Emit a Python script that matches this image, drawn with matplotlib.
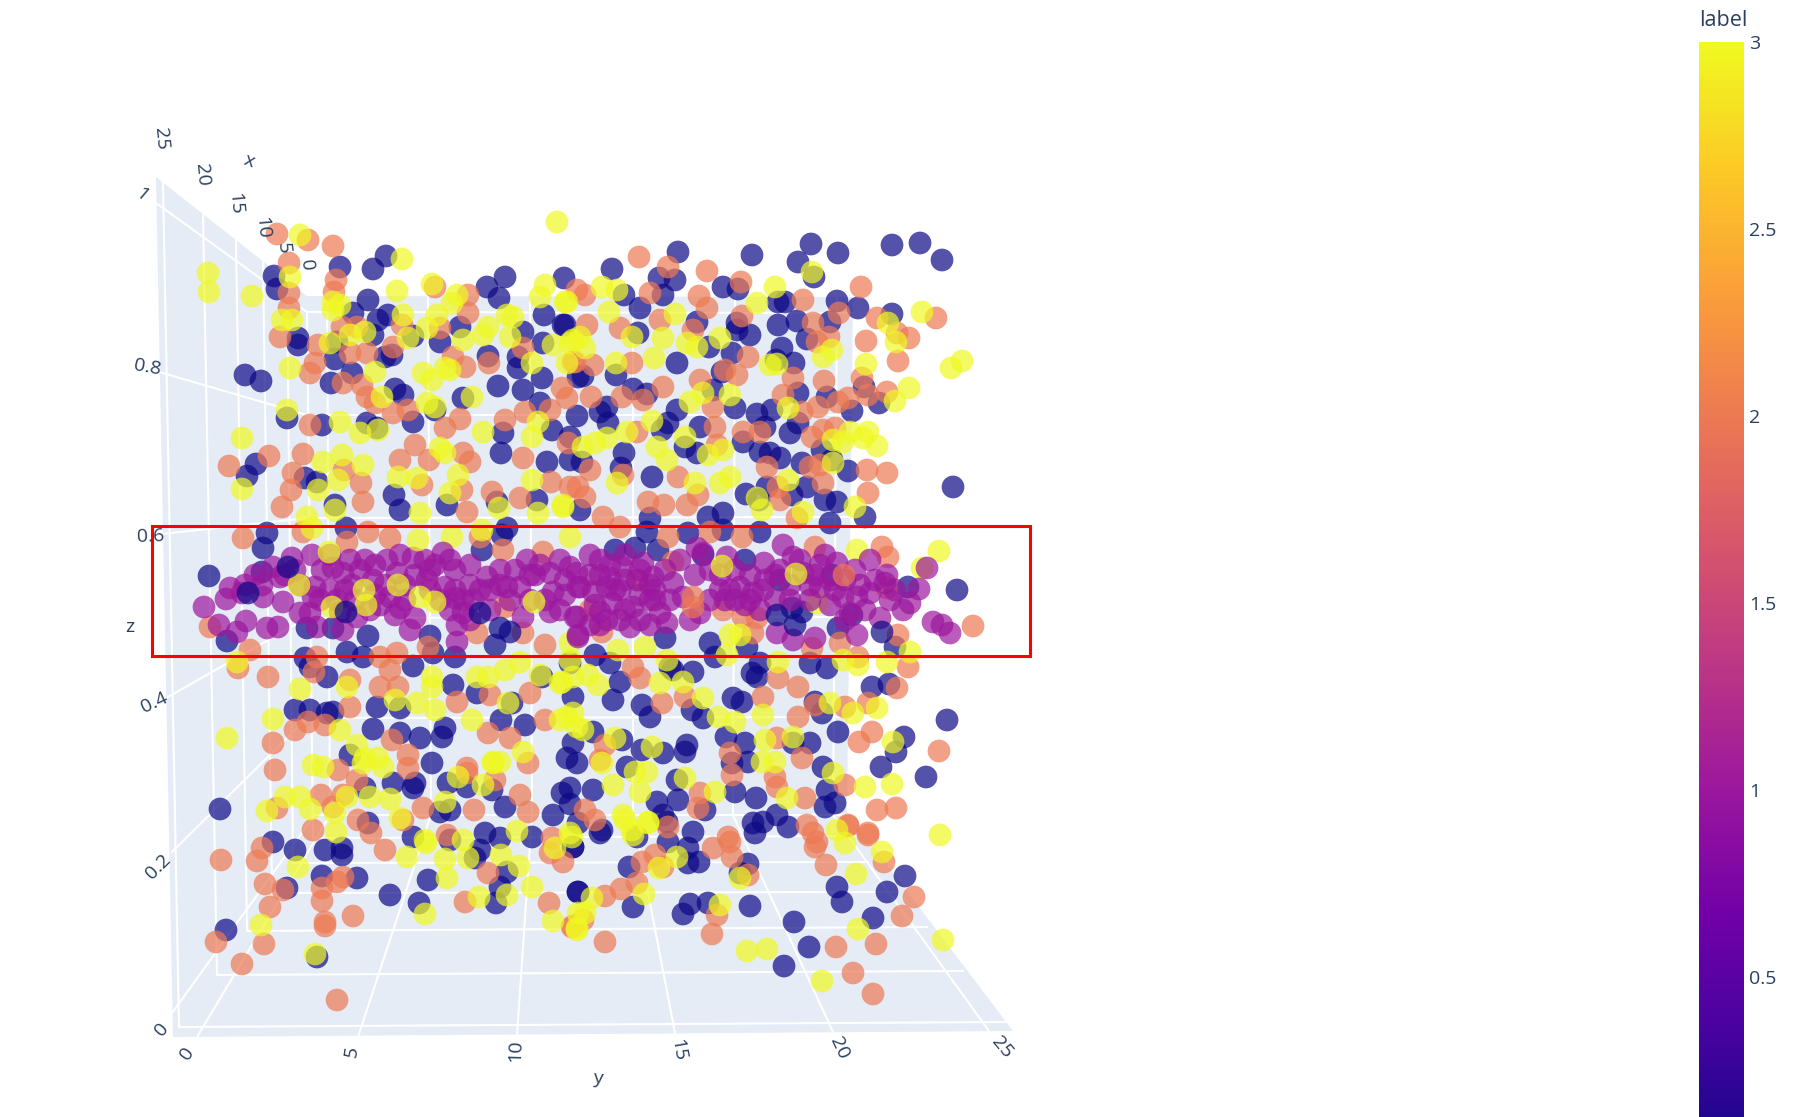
#!/usr/bin/env python3
"""
3D scatter view (x, y, z coloured by label) with a red box around the z = 0.5 band.
Point positions are read off the picture, so they are kept as projected
screen positions per label.
"""

import matplotlib.pyplot as plt
import numpy as np
from matplotlib.colors import LinearSegmentedColormap
from matplotlib.patches import Polygon, Rectangle

plt.rcParams["font.family"] = ["Open Sans", "DejaVu Sans"]

WIDTH, HEIGHT = 1804, 1117
TEXT_COLOR = "#2a3f5f"
PANE_COLOR = "#E5ECF6"
PLASMA = ["#0d0887", "#46039f", "#7201a8", "#9c179e", "#bd3786",
          "#d8576b", "#ed7953", "#fb9f3a", "#fdca26", "#f0f921"]

COLORBAR_TICKS = [0.5, 1, 1.5, 2, 2.5, 3]
COLORBAR_LABELS = ["0.5", "1", "1.5", "2", "2.5", "3"]

# label 0
blue = [(386,256),(373,269),(340,267),(274,276),(277,289),(368,300),(505,277),(487,287),(499,298),(564,278),
(544,315),(563,325),(523,332),(543,343),(488,356),(518,357),(518,368),(542,378),(498,386),(523,390),
(540,403),(460,327),(440,342),(413,336),(388,315),(378,320),(373,335),(353,313),(298,345),(298,338),
(337,342),(335,359),(352,373),(331,383),(245,375),(261,381),(287,418),(385,357),(392,355),(395,389),
(403,395),(463,398),(435,410),(413,422),(322,425),(367,423),(377,428),(503,433),(552,430),(578,377),
(811,244),(838,253),(892,245),(920,243),(942,260),(798,262),(814,277),(752,255),(678,252),(612,269),
(659,278),(675,280),(663,295),(640,308),(723,287),(738,289),(624,295),(837,301),(858,308),(785,302),
(778,302),(892,314),(830,322),(797,321),(778,325),(697,322),(737,323),(737,330),(750,335),(638,333),
(565,325),(807,339),(782,348),(709,347),(732,353),(677,363),(794,363),(776,360),(583,376),(616,375),
(722,372),(633,389),(647,394),(713,390),(798,393),(827,397),(864,387),(879,403),(852,411),(607,407),
(600,412),(577,416),(608,423),(677,410),(735,408),(757,414),(772,410),(700,427),(668,423),(662,430),
(765,427),(790,433),(798,423),(685,447),(697,453),(760,452),(780,458),(770,453),(743,442),(802,463),
(832,460),(822,450),(848,471),(953,487),(624,453),(621,468),(652,477),(582,462),(570,437),(746,494),
(767,487),(759,500),(807,487),(792,495),(825,500),(837,502),(865,517),(708,517),(723,513),(650,518),
(830,523),(580,510),(256,464),(247,476),(305,478),(317,482),(267,533),(263,548),(209,576),(262,572),
(227,641),(307,628),(333,628),(368,636),(347,652),(363,657),(305,658),(327,677),(310,667),(413,666),
(430,636),(433,653),(455,657),(453,685),(400,510),(394,495),(447,505),(501,453),(537,500),(547,462),
(497,502),(346,528),(335,505),(495,645),(507,528),(502,535),(482,550),(570,460),(295,710),(310,710),
(327,713),(333,712),(377,707),(400,708),(373,729),(400,733),(420,738),(442,737),(445,728),(525,725),
(501,720),(512,703),(477,693),(542,677),(573,697),(432,763),(567,758),(577,763),(573,743),(570,663),
(350,755),(760,532),(688,533),(723,530),(647,532),(635,548),(615,550),(658,550),(703,555),(745,560),
(780,580),(832,575),(908,587),(802,612),(792,608),(852,615),(838,628),(895,647),(665,638),(710,643),
(715,657),(747,647),(810,663),(827,668),(760,663),(757,677),(752,673),(733,698),(742,702),(673,670),
(693,672),(670,667),(620,682),(610,663),(595,655),(613,700),(642,705),(650,717),(703,718),(692,710),
(815,702),(822,713),(838,732),(872,687),(889,684),(947,720),(904,737),(896,752),(881,767),(926,777),
(593,732),(622,740),(642,750),(663,753),(687,745),(685,752),(726,737),(745,743),(748,762),(732,763),
(793,743),(810,743),(823,767),(593,790),(627,767),(570,788),(677,780),(735,792),(756,798),(678,800),
(657,802),(663,815),(827,790),(835,803),(825,807),(753,823),(763,822),(777,815),(788,827),(693,832),
(602,830),(705,810),(220,809),(226,930),(273,842),(295,850),(325,850),(342,848),(342,855),(322,876),
(357,878),(287,888),(390,895),(428,880),(419,903),(317,957),(368,823),(365,788),(393,783),(415,783),
(413,788),(448,783),(467,787),(413,837),(440,812),(450,810),(450,840),(492,790),(505,807),(485,833),
(500,838),(480,850),(475,858),(532,837),(553,815),(562,793),(570,804),(507,872),(500,887),(496,903),
(578,892),(573,847),(578,823),(668,842),(688,848),(699,862),(688,863),(629,867),(578,892),(633,907),
(690,904),(683,914),(708,903),(750,906),(748,864),(740,873),(794,922),(809,947),(784,966),(837,887),
(842,902),(873,918),(887,892),(905,876),(755,833),(600,833),(573,847),(637,837),(667,822)]

# label 1
magenta = [(204,607),(226,599),(230,588),(242,593),(219,625),(246,621),(267,628),(278,627),(237,632),(263,597),
(273,567),(283,602),(292,558),(312,555),(280,577),(300,613),(315,587),(333,568),(343,573),(310,613),
(365,560),(360,570),(387,560),(413,558),(397,573),(373,580),(443,553),(450,560),(427,580),(390,597),
(400,608),(395,615),(410,630),(457,625),(457,642),(463,600),(487,577),(500,570),(527,560),(507,587),
(520,587),(550,573),(550,612),(577,573),(578,587),(575,617),(578,637),(343,630),(357,617),(317,627),
(313,597),(553,592),(445,587),(473,600),(463,613),(523,617),(337,600),(600,560),(622,567),(643,563),
(607,587),(593,592),(612,603),(637,580),(653,577),(673,583),(697,548),(703,553),(727,557),(764,563),
(783,545),(793,557),(820,565),(837,563),(870,560),(887,575),(885,583),(927,568),(919,589),(910,603),
(903,610),(933,622),(942,625),(950,633),(850,613),(857,597),(870,593),(880,618),(740,587),(730,590),
(753,593),(763,590),(820,587),(803,573),(830,580),(843,597),(683,597),(667,623),(660,613),(630,627),
(607,620),(600,612),(577,617),(578,635),(777,633),(815,638),(793,640),(857,635),(700,613),(633,607),
(580,587),(570,567),(352,585),(330,590),(430,570),(480,590),(535,575),(590,575),(620,590),(650,600),
(245,585),(255,575),(262,585),(285,575),(295,570),(300,585),(322,570),(330,555),(350,560),(375,565),
(400,555),(425,560),(435,565),(455,570),(470,565),(320,600),(345,590),(355,600),(375,595),(385,585),
(405,585),(415,575),(430,590),(440,600),(455,590),(470,585),(490,590),(500,585),(515,570),(530,575),
(540,565),(560,560),(565,580),(590,555),(610,565),(625,555),(650,585),(665,570),(680,560),(695,575),
(710,570),(720,575),(735,570),(750,575),(775,575),(790,585),(815,575),(845,580),(860,585),(875,580),
(895,590),(340,612),(370,610),(380,605),(405,600),(415,618),(450,610),(470,620),(490,610),(510,600),
(530,600),(545,600),(560,610),(565,595),(595,605),(615,590),(625,610),(640,595),(655,600),(670,600),
(690,620),(710,600),(725,600),(745,605),(760,610),(775,600),(790,600),(810,600),(830,605),(845,620),
(865,610),(890,600),(455,598),(600,625),(590,625),(620,620),(640,620),(650,625),(600,575),(610,578),
(625,580),(640,570),(655,590),(720,590),(735,600),(750,600),(765,580),(780,570),(800,560),(810,585),
(825,555),(835,590),(855,570)]

# label 2
salmon = [(277,234),(308,240),(333,246),(289,263),(336,280),(334,292),(289,293),(289,308),(280,337),(435,287),
(468,295),(468,313),(440,328),(357,327),(342,327),(318,345),(350,353),(367,353),(393,347),(402,325),
(315,363),(310,373),(343,383),(362,385),(367,397),(375,403),(393,413),(408,410),(453,357),(465,367),
(489,363),(523,348),(562,388),(567,398),(575,362),(525,412),(505,420),(550,410),(460,419),(445,428),
(310,425),(577,290),(639,257),(668,267),(707,271),(741,282),(861,287),(650,293),(699,296),(707,308),
(803,300),(839,313),(877,318),(936,318),(909,338),(897,333),(866,341),(898,361),(813,323),(817,342),
(829,337),(742,316),(693,330),(660,320),(620,328),(585,295),(587,325),(573,362),(593,365),(632,363),
(748,357),(737,375),(725,370),(700,380),(663,387),(591,397),(622,397),(643,400),(824,381),(783,395),
(793,378),(862,378),(887,392),(868,395),(848,398),(838,402),(818,407),(802,412),(713,407),(835,428),
(823,430),(812,437),(715,427),(743,432),(760,432),(717,445),(637,432),(810,467),(823,483),(820,465),
(867,470),(887,473),(868,493),(590,470),(623,475),(578,487),(585,497),(678,477),(648,502),(664,505),
(687,505),(698,495),(778,487),(780,500),(603,517),(620,527),(797,518),(767,467),(568,443),(229,466),
(269,456),(303,454),(293,473),(291,490),(282,507),(361,483),(363,502),(344,470),(415,445),(400,460),
(429,460),(463,453),(470,462),(422,485),(462,490),(492,492),(467,512),(523,458),(551,482),(520,498),
(243,538),(303,532),(368,532),(390,538),(347,542),(480,537),(543,552),(503,550),(210,627),(250,650),
(238,668),(268,677),(505,607),(545,645),(523,633),(477,633),(428,647),(380,657),(397,653),(390,670),
(317,657),(314,672),(350,680),(380,687),(398,687),(530,693),(490,695),(488,733),(457,702),(510,738),
(545,720),(350,707),(295,730),(308,722),(325,725),(273,743),(392,740),(408,755),(338,770),(528,763),
(570,487),(467,768),(668,537),(710,532),(742,537),(815,547),(882,547),(888,557),(887,588),(723,610),
(743,617),(757,618),(753,633),(673,562),(638,580),(602,632),(590,610),(973,626),(898,635),(908,667),
(897,688),(868,703),(840,643),(858,657),(812,648),(778,678),(798,687),(763,697),(815,705),(845,707),
(798,717),(872,732),(859,742),(777,738),(802,758),(939,751),(730,753),(732,775),(775,777),(777,787),
(845,785),(877,810),(896,808),(805,798),(848,825),(868,833),(700,793),(698,808),(807,825),(813,833),
(662,703),(685,697),(633,667),(640,678),(600,760),(585,810),(595,820),(668,827),(728,837),(605,745),
(275,770),(221,860),(257,861),(262,848),(216,942),(242,964),(264,944),(265,884),(270,907),(283,890),
(322,901),(322,888),(325,922),(325,926),(353,916),(343,877),(337,882),(337,1000),(385,850),(313,830),
(321,795),(333,807),(358,820),(371,833),(357,780),(403,820),(343,795),(423,808),(447,835),(465,902),
(488,873),(474,810),(467,773),(495,780),(520,795),(528,812),(549,903),(552,838),(550,853),(563,862),
(572,927),(408,768),(277,808),(605,942),(605,896),(621,889),(637,883),(642,862),(655,855),(663,867),
(713,848),(730,842),(732,857),(748,875),(717,915),(712,934),(573,926),(583,920),(815,847),(817,842),
(826,865),(848,826),(868,835),(884,862),(914,897),(902,916),(876,944),(836,947),(853,973),(873,994)]

# label 3
yellow = [(300,235),(402,259),(208,273),(209,292),(252,296),(290,277),(397,291),(432,284),(457,295),(452,303),
(333,302),(340,305),(333,310),(282,320),(292,320),(403,315),(437,315),(427,328),(463,340),(488,327),
(483,335),(507,315),(513,317),(510,337),(545,285),(540,297),(565,302),(553,345),(567,363),(573,340),
(290,368),(375,372),(350,335),(365,332),(330,343),(408,338),(423,373),(432,380),(445,368),(450,370),
(382,397),(427,403),(435,407),(472,397),(287,410),(340,422),(483,432),(538,422),(532,437),(557,222),
(532,363),(378,430),(360,433),(812,272),(602,287),(617,290),(775,287),(757,303),(609,312),(567,302),
(675,314),(922,312),(888,323),(962,361),(951,368),(896,342),(866,364),(909,388),(895,401),(823,357),
(832,350),(777,364),(770,365),(720,338),(697,347),(687,343),(663,338),(632,337),(654,358),(616,363),
(585,348),(570,343),(580,337),(730,395),(703,393),(690,402),(788,408),(652,421),(868,432),(863,438),
(877,446),(850,432),(843,442),(833,440),(685,437),(627,432),(607,438),(595,443),(583,447),(657,447),
(667,460),(723,450),(708,455),(720,483),(730,477),(695,483),(617,483),(788,480),(833,463),(762,510),
(757,498),(803,512),(855,507),(563,507),(242,438),(242,489),(323,462),(342,455),(363,465),(338,480),
(318,490),(398,477),(417,478),(458,475),(445,453),(440,448),(450,493),(532,480),(499,508),(538,513),
(563,505),(307,517),(312,528),(420,513),(452,537),(482,530),(335,510),(237,662),(300,689),(347,687),
(395,700),(432,677),(432,687),(435,710),(417,703),(472,720),(477,677),(488,677),(505,670),(520,662),
(540,675),(560,683),(573,677),(508,703),(560,720),(273,719),(227,738),(340,730),(357,745),(365,758),
(378,758),(313,765),(323,767),(493,762),(500,762),(523,752),(577,727),(730,635),(740,635),(817,603),
(910,652),(887,662),(858,665),(843,660),(778,662),(727,655),(667,660),(645,647),(618,650),(570,643),
(703,698),(718,717),(735,722),(763,715),(765,740),(775,762),(762,762),(793,737),(853,713),(877,708),
(830,703),(893,742),(892,784),(865,787),(833,773),(613,785),(640,792),(647,772),(635,772),(615,738),
(602,763),(573,713),(567,717),(583,730),(685,778),(715,792),(787,798),(652,747),(623,815),(632,830),
(648,822),(940,835),(837,830),(570,660),(588,675),(598,685),(660,683),(683,682),(570,833),(562,682),
(267,811),(285,797),(300,797),(310,809),(336,832),(298,867),(261,925),(315,954),(335,813),(347,797),
(370,797),(363,763),(383,767),(407,857),(426,843),(445,859),(447,878),(468,858),(519,866),(532,887),
(479,897),(507,895),(425,914),(553,921),(577,930),(517,831),(501,855),(555,848),(390,799),(425,840),
(400,818),(463,840),(445,802),(458,777),(483,785),(493,763),(572,837),(578,913),(845,843),(882,852),
(856,874),(943,940),(858,929),(822,981),(767,949),(747,951),(720,905),(644,894),(592,898),(585,913),
(577,928),(659,868),(625,820),(677,857),(740,878),(633,835),(648,823),(939,551),(922,568),(857,550)]

# points that sit in front of the magenta band, with their labels
front_pos = [(299,585),(364,590),(332,607),(366,605),(420,597),(435,602),(534,602),(398,585),(329,552),(418,540),
(570,537),(722,566),(796,574),(844,575),(693,597),(693,607),(248,593),(346,612),(480,613),(500,628),
(510,632),(795,625),(777,615),(957,590),(882,632),(288,567)]
front_label = [3,3,3,3,3,3,3,3,3,3,
               3,3,3,2,2,2,0,0,0,0,
               0,0,0,0,0,0]

# pane outlines and grid ends, read in the same screen positions
LEFT_WALL = [(156,177),(307,296),(315,812),(173,1037)]
BACK_WALL = [(307,296),(853,297),(847,812),(315,812)]
FLOOR = [(173,1037),(315,812),(847,812),(1013,1031)]
GRID_LINES = [
    # left wall, x = const
    [(163,182),(179,1027)], [(203,215),(217,975)], [(236,240),(247,931)],
    [(263,260),(272,893)], [(287,277),(293,863)], [(307,312),(313,838)],
    # left wall, z = const
    [(156,203),(307,312)], [(159,372),(307,415)], [(162,534),(307,518)],
    [(168,697),(307,618)], [(172,852),(307,718)], [(172,1013),(315,815)],
    # back wall, y = const
    [(327,297),(330,815)], [(428,297),(431,815)], [(530,297),(532,815)],
    [(633,297),(633,815)], [(735,297),(733,815)], [(837,297),(833,815)],
    # back wall, z = const
    [(307,312),(852,313)], [(307,415),(851,415)], [(307,518),(850,517)],
    [(307,618),(849,617)], [(307,718),(848,717)], [(315,815),(847,815)],
    # floor, y = const
    [(197,1037),(330,815)], [(358,1037),(431,815)], [(517,1035),(532,815)],
    [(675,1033),(633,815)], [(833,1032),(733,815)], [(989,1031),(833,815)],
    # floor, x = const
    [(179,1027),(1005,1022)], [(217,975),(963,971)], [(247,931),(927,927)],
    [(272,893),(897,892)], [(293,863),(868,862)], [(313,838),(857,836)],
]

# (text, x, y, rotation)
AXIS_TEXTS = [
    ("25",161,139,-85), ("20",202,175,-85), ("15",235,204,-85), ("10",262,228,-85),
    ("5",283,248,-85), ("0",306,265,-85), ("x",249,161,-20),
    ("1",142,195,-40), ("0.8",147,367,-10), ("0.6",151,537,2), ("z",130,627,0),
    ("0.4",154,703,25), ("0.2",158,867,45), ("0",162,1029,50),
    ("0",187,1054,55), ("5",352,1052,80), ("10",516,1051,88), ("15",678,1050,-80),
    ("20",839,1048,-65), ("25",1002,1047,-50), ("y",598,1078,-5),
]

cmap = LinearSegmentedColormap.from_list("plasma_plotly", PLASMA)

fig = plt.figure(figsize=(WIDTH / 100, HEIGHT / 100), dpi=100)
ax = fig.add_axes([0, 0, 1, 1])
ax.set_xlim(0, WIDTH)
ax.set_ylim(HEIGHT, 0)
ax.axis("off")

for pane in (LEFT_WALL, BACK_WALL, FLOOR):
    ax.add_patch(Polygon(pane, closed=True, facecolor=PANE_COLOR, edgecolor="none", zorder=1))
for line in GRID_LINES:
    xs, ys = zip(*line)
    ax.plot(xs, ys, color="white", lw=1.5, zorder=2)

z = 3
for points, label in ((blue, 0), (salmon, 2), (yellow, 3), (magenta, 1)):
    pts = np.array(points)
    ax.scatter(pts[:, 0], pts[:, 1], c=[label] * len(pts), cmap=cmap, vmin=0, vmax=3,
               s=268, alpha=0.7, linewidths=0, zorder=z)
    z += 1

pts = np.array(front_pos)
ax.scatter(pts[:, 0], pts[:, 1], c=front_label, cmap=cmap, vmin=0, vmax=3,
           s=268, alpha=0.7, linewidths=0, zorder=z)

ax.add_patch(Rectangle((152, 526), 878, 130, fill=False, edgecolor="red", lw=2.2, zorder=10))

for text, x, y, rot in AXIS_TEXTS:
    ax.text(x, y, text, color=TEXT_COLOR, fontsize=14, rotation=rot,
            ha="center", va="center", zorder=11)

# colour bar runs past the bottom edge of the picture
cax = fig.add_axes([1699 / WIDTH, 0, 45 / WIDTH, (HEIGHT - 42) / HEIGHT])
gradient = np.linspace(0.126, 3, 512).reshape(-1, 1)
cax.imshow(gradient, aspect="auto", origin="lower", cmap=cmap, vmin=0, vmax=3,
           extent=(0, 1, 0.126, 3))
cax.set_xticks([])
cax.yaxis.tick_right()
cax.set_yticks(COLORBAR_TICKS)
cax.set_yticklabels(COLORBAR_LABELS, color=TEXT_COLOR, fontsize=14)
cax.tick_params(axis="y", length=0, pad=3.6)
for spine in cax.spines.values():
    spine.set_visible(False)
fig.text(1699 / WIDTH, 1 - 21 / HEIGHT, "label", color=TEXT_COLOR, fontsize=15.5,
         ha="left", va="center")

fig.savefig("out.png", dpi=100)
